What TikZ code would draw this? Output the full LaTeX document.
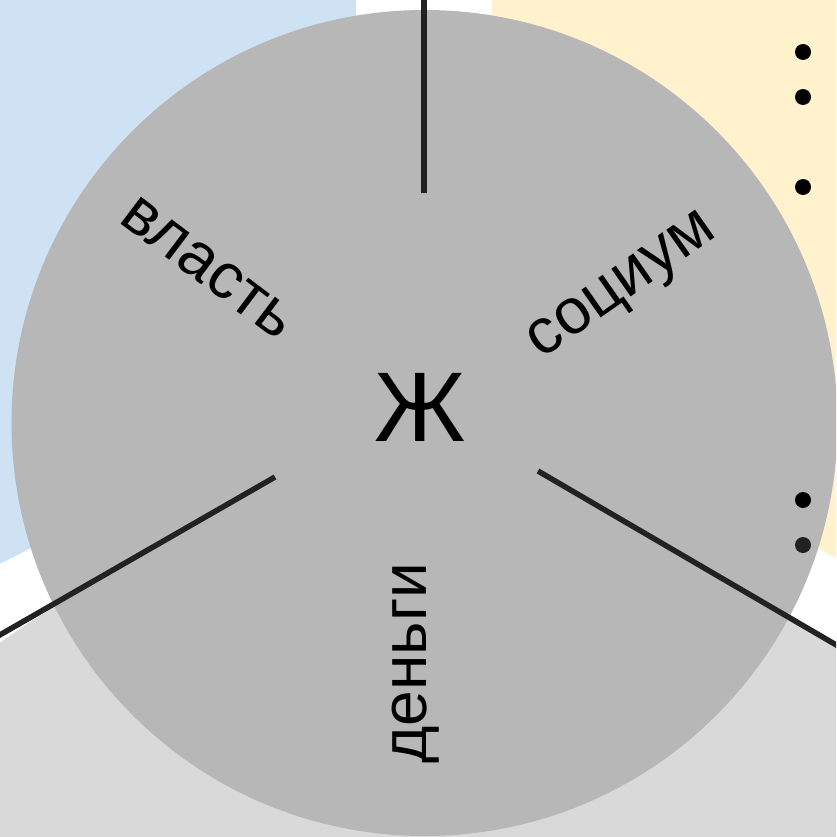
\documentclass[tikz,border=0pt]{standalone}
\usepackage{fontspec}
\setmainfont{Liberation Sans}
\definecolor{cblue}{HTML}{CFE2F3}
\definecolor{cyellow}{HTML}{FFF2CC}
\definecolor{clight}{HTML}{D9D9D9}
\definecolor{cmid}{HTML}{B7B7B7}
\definecolor{cline}{HTML}{222222}
\tikzset{
  spoke/.style={draw=cline, line width=5.5pt},
  dotmark/.style={circle, fill=black, inner sep=0pt, minimum size=16pt},
  lbl/.style={font=\fontsize{64}{64}\selectfont, inner sep=0pt}
}
\begin{document}
\begin{tikzpicture}[x=1pt,y=-1pt]
\useasboundingbox (0,0) rectangle (836,837);
\clip (0,0) rectangle (836,837);
\fill[white] (0,0) rectangle (836,837);
% background circles
\fill[cblue] (-268,0) circle[radius=624];
\fill[cyellow] (1116,0) circle[radius=624];
\fill[clight] (415,1217.6) circle[radius=709];
% main circle
\fill[cmid] (424.5,423) circle[radius=413];
% spokes
\coordinate (t0) at (424,0);
\coordinate (t1) at (424,193);
\coordinate (l0) at (275,477);
\coordinate (l1) at (-2,636);
\coordinate (r0) at (538,471);
\coordinate (r1) at (838,646);
\draw[spoke] (t0) -- (t1);
\draw[spoke] (l0) -- (l1);
\draw[spoke] (r0) -- (r1);
% labels
\node[font=\fontsize{99}{99}\selectfont, inner sep=0pt] (zh) at (420,407) {Ж};
\node[lbl, rotate=-37] (vl) at (208,268) {власть};
\node[lbl, rotate=35] (so) at (624,289) {социум};
\node[lbl, rotate=90] (de) at (416,663) {деньги};
% dots
\node[dotmark] (d1) at (803,52) {};
\node[dotmark] (d2) at (803,97) {};
\node[dotmark] (d3) at (803,187) {};
\node[dotmark] (d4) at (803,500) {};
\node[dotmark, fill=cline] (d5) at (803,545) {};
\end{tikzpicture}
\end{document}
